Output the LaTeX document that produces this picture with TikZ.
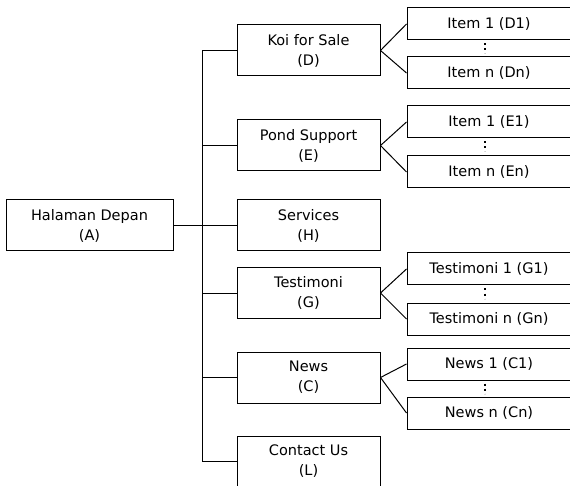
\documentclass[tikz,border=0pt]{standalone}
\usepackage{fontspec}
\setmainfont{DejaVu Sans}
\begin{document}
\begin{tikzpicture}[x=1pt, y=-1pt, line width=1pt,
    mainbox/.style={draw, align=center, minimum width=143pt, minimum height=51pt,
                    inner sep=0pt, font=\fontsize{14.5}{20}\selectfont},
    itembox/.style={draw, minimum width=164pt, minimum height=32pt,
                    inner sep=0pt, font=\fontsize{14.5}{17}\selectfont},
    dotline/.style={line width=2pt, dash pattern=on 2pt off 3pt}]
    % Define page size
    \useasboundingbox (0,0) rectangle (570,486);

    % Home page
    \node[mainbox, minimum width=167pt] (A) at (89.5,225.5) {Halaman Depan\\(A)};

    % Menu pages
    \node[mainbox] (D) at (308.5,50.5) {Koi for Sale\\(D)};
    \node[mainbox] (E) at (308.5,145.5) {Pond Support\\(E)};
    \node[mainbox] (H) at (308.5,225.5) {Services\\(H)};
    \node[mainbox] (G) at (308.5,293) {Testimoni\\(G)};
    \node[mainbox] (C) at (308.5,377.5) {News\\(C)};
    \node[mainbox] (L) at (308.5,461.5) {Contact Us\\(L)};

    % Sub pages
    \node[itembox] (D1) at (489,24) {Item 1 (D1)};
    \node[itembox] (Dn) at (489,73) {Item n (Dn)};
    \node[itembox] (E1) at (489,122) {Item 1 (E1)};
    \node[itembox] (En) at (489,172) {Item n (En)};
    \node[itembox] (G1) at (489,269) {Testimoni 1 (G1)};
    \node[itembox] (Gn) at (489,319) {Testimoni n (Gn)};
    \node[itembox] (C1) at (489,364) {News 1 (C1)};
    \node[itembox] (Cn) at (489,413) {News n (Cn)};

    % Draw tree lines
    \draw (D.west) -- ++(-34,0) |- (L.west);
    \draw (E.west) -- ++(-34,0);
    \draw (G.west) -- ++(-34,0);
    \draw (C.west) -- ++(-34,0);
    \draw (A.east) -- (H.west);

    % Draw sub page lines
    \foreach \p in {D,E,G,C} {
        \draw (\p.east) -- (\p1.west);
        \draw (\p.east) -- (\p n.west);
        \draw[dotline] (\p1.south) ++(-4,3) -- ++(0,10);
    }

\end{tikzpicture}
\end{document}
